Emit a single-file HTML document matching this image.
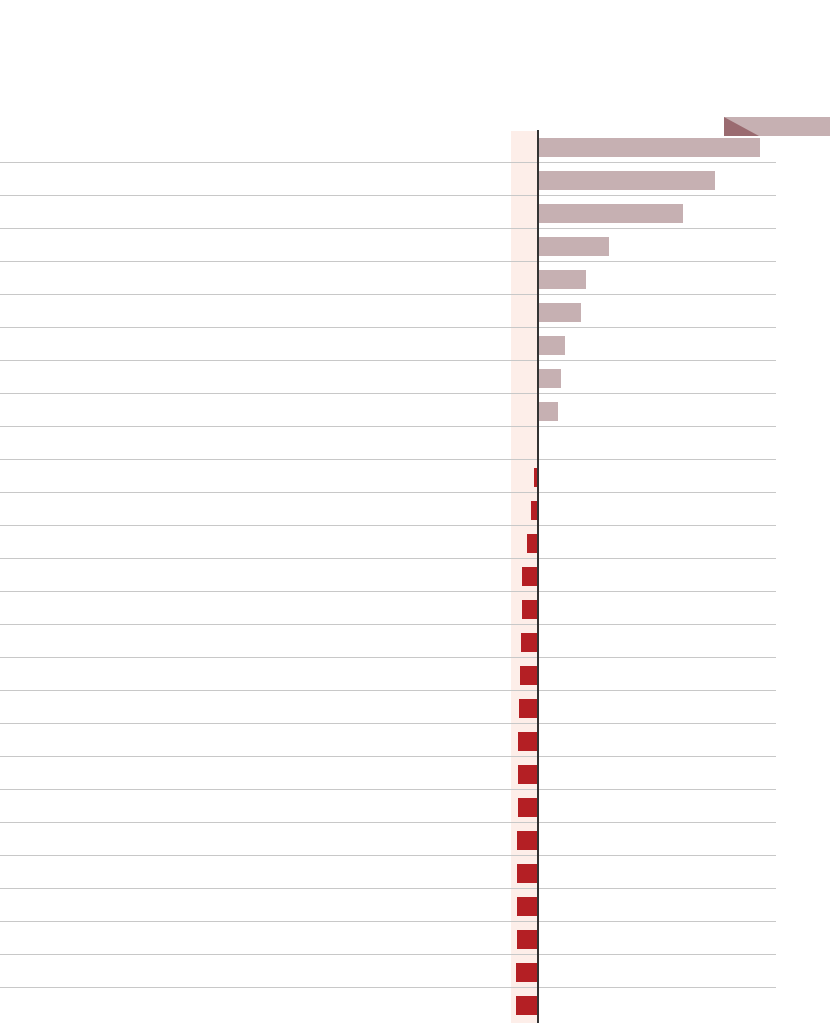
<!DOCTYPE html>
<html><head><meta charset="utf-8"><style>body{margin:0;background:#fff}svg{display:block}</style></head>
<body>
<svg id="chart" width="830" height="1026" xmlns="http://www.w3.org/2000/svg">
<rect x="511" y="131" width="27" height="892" fill="#fdeee9"/>
<g id="grid"></g>
<g id="bars"></g>
<rect x="724" y="117" width="106" height="19" fill="#c6b0b2"/>
<polygon points="724,117 724,136 759,136" fill="#9a6b70"/>
<line x1="538" y1="130" x2="538" y2="1023" stroke="#333" stroke-width="2"/>
</svg>
<script>
const categories=["r1","r2","r3","r4","r5","r6","r7","r8","r9","r10","r11","r12","r13","r14","r15","r16","r17","r18","r19","r20","r21","r22","r23","r24","r25","r26","r27"];
const values=[222,177,145,71,48,43,27,23,20,0,-4,-7,-11,-16,-16,-17,-18,-19,-20,-20,-20,-21,-21,-21,-21,-22,-22];
const NS="http://www.w3.org/2000/svg";
const x0=538, scale=1;
function xs(v){return x0+v*scale;}
function yRow(i){return 137+33*i;}
const grid=document.getElementById('grid'), bars=document.getElementById('bars');
for(let i=0;i<categories.length-1;i++){
  const l=document.createElementNS(NS,'line');
  
  
  const y=yRow(i)+25.5;
  l.setAttribute('x1',0);l.setAttribute('x2',776);l.setAttribute('y1',y);l.setAttribute('y2',y);
  l.setAttribute('stroke','#c8c8c8');l.setAttribute('stroke-width','1');
  grid.appendChild(l);
}
values.forEach((v,i)=>{
  if(v===0)return;
  const r=document.createElementNS(NS,'rect');
  
  
  const a=v>0?xs(0)+1:xs(v), b=v>0?xs(v):xs(0);
  r.setAttribute('x',a);
  r.setAttribute('width',Math.max(0,b-a));
  r.setAttribute('y',yRow(i)+1);r.setAttribute('height',19);
  r.setAttribute('fill',v>0?'#c6b0b2':'#b41f24');
  bars.appendChild(r);
});
</script>
</body></html>
